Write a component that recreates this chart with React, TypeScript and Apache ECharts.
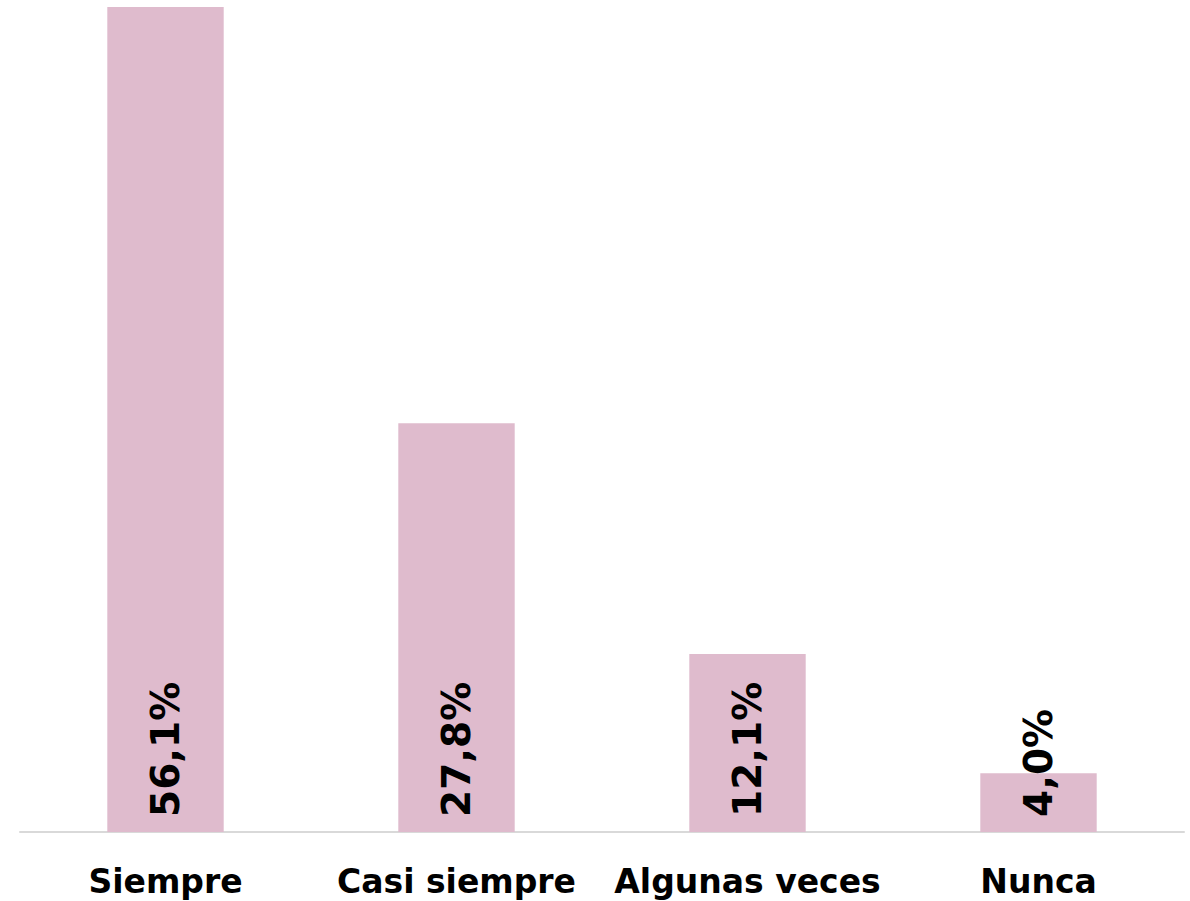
import React, { useEffect, useRef } from "react";
import * as echarts from "echarts";

const categories = ["Siempre", "Casi siempre", "Algunas veces", "Nunca"];
const values = [56.1, 27.8, 12.1, 4.0];
const valueLabels = ["56,1%", "27,8%", "12,1%", "4,0%"];

const FONT = "'DejaVu Sans', sans-serif";

export default function App() {
  const ref = useRef<HTMLDivElement>(null);
  useEffect(() => {
    if (!ref.current) return;
    const chart = echarts.init(ref.current, null, { renderer: "svg" });
    chart.setOption({
      animation: false,
      backgroundColor: "#ffffff",
      grid: { left: 20, right: 6, top: 7, bottom: 69, containLabel: false },
      xAxis: {
        type: "category",
        data: categories,
        axisLine: { show: true, lineStyle: { color: "#d9d9d9", width: 2 } },
        axisTick: { show: false },
        axisLabel: {
          color: "#000000",
          fontFamily: FONT,
          fontWeight: "bold",
          fontSize: 33,
          margin: 33,
          interval: 0,
        },
      },
      yAxis: {
        type: "value",
        min: 0,
        max: 56.1,
        show: false,
        splitLine: { show: false },
      },
      series: [
        {
          type: "bar",
          data: values,
          barWidth: "40%",
          itemStyle: { color: "#dfbbcd" },
          label: {
            show: true,
            position: "insideBottom",
            rotate: 90,
            align: "left",
            verticalAlign: "middle",
            distance: 15,
            color: "#000000",
            fontFamily: FONT,
            fontWeight: "bold",
            fontSize: 39,
            formatter: (p: any) => valueLabels[p.dataIndex],
          },
        },
      ],
    });
    return () => chart.dispose();
  }, []);
  return (
    <div
      ref={ref}
      style={{ position: "absolute", left: 0, top: 0, width: 1190, height: 901 }}
    />
  );
}
